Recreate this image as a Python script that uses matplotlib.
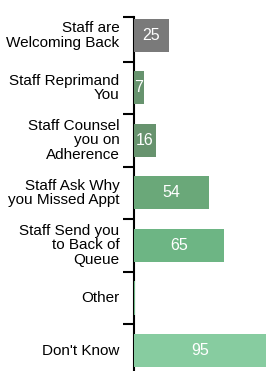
import matplotlib
matplotlib.use("Agg")
import matplotlib.pyplot as plt

labels = ["Staff are\nWelcoming Back", "Staff Reprimand\nYou", "Staff Counsel\nyou on\nAdherence",
          "Staff Ask Why\nyou Missed Appt", "Staff Send you\nto Back of\nQueue", "Other", "Don't Know"]
values = [25, 7, 16, 54, 65, 1, 95]
colors = ["#7a7a7a", "#67936e", "#67936e", "#6aa879", "#6db584", "#6db584", "#87cca0"]

plt.rcParams["font.family"] = ["Liberation Sans", "DejaVu Sans"]

fig = plt.figure(figsize=(2.66, 3.71), dpi=100)
ax = fig.add_axes([134 / 266, 0, 1 - 134 / 266, 1 - 17 / 371])

y = list(range(len(values)))
ax.barh(y, values, height=0.63, color=colors, zorder=3)
ax.set_xlim(0, 95)
ax.set_ylim(6.39, -0.35)

for yi, v in zip(y, values):
    if v >= 5:
        ax.text(v / 2, yi, str(v), color="white", ha="center", va="center", fontsize=11.5, zorder=4)

ax.set_yticks([-0.35, 0.5, 1.5, 2.5, 3.5, 4.5, 5.5])
ax.set_yticklabels([])
ax.tick_params(axis="y", length=8, width=1.5, color="black")
for yi, lab in zip(y, labels):
    ax.text(-10.5, yi, lab, ha="right", va="center", fontsize=11, linespacing=1.05,
            clip_on=False)

ax.set_xticks([])
for s in ["top", "right", "bottom"]:
    ax.spines[s].set_visible(False)
ax.spines["left"].set_linewidth(1.5)
ax.spines["left"].set_zorder(2)

fig.savefig("out.png", dpi=100)
